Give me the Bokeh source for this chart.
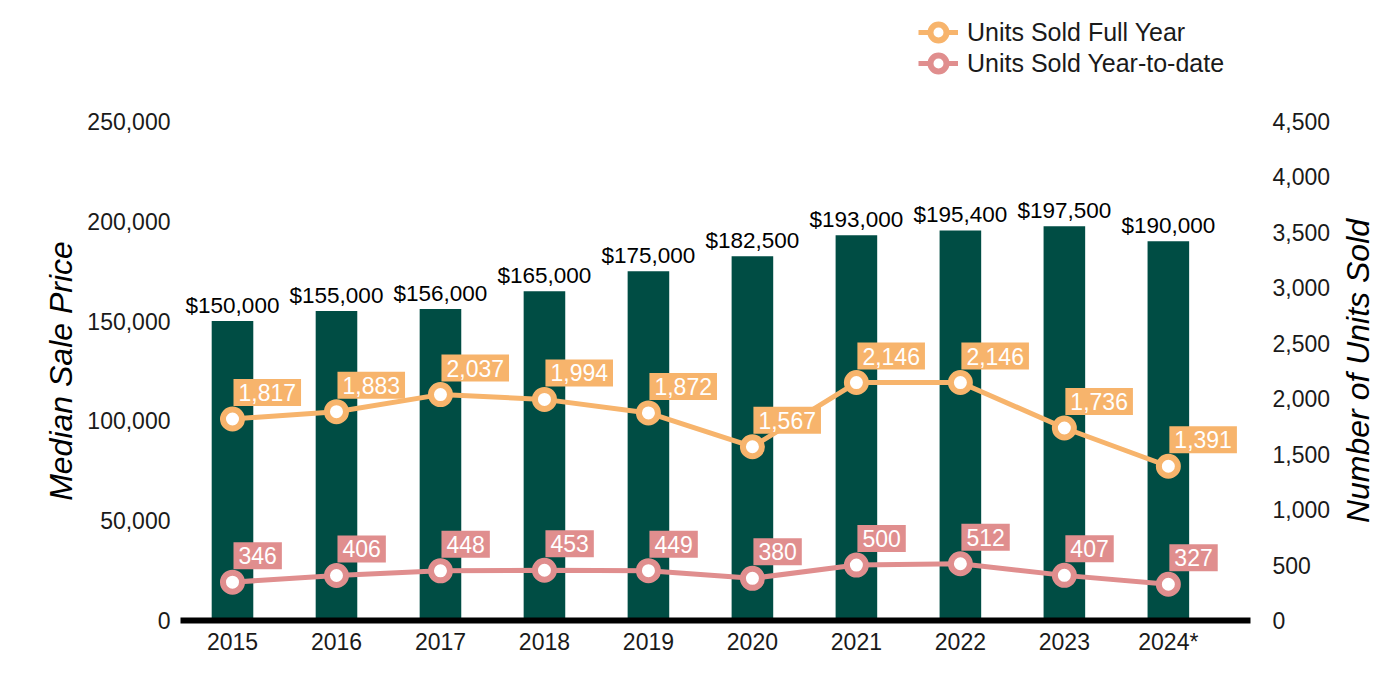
import math
from bokeh.plotting import figure
from bokeh.layouts import column, row
from bokeh.models import (Range1d, LinearAxis, FixedTicker, NumeralTickFormatter,
                          ColumnDataSource, Legend, LegendItem, Label)
from bokeh.core.properties import value
from bokeh.embed import file_html
from bokeh.resources import INLINE

# ---- data ----
years = ["2015", "2016", "2017", "2018", "2019", "2020", "2021", "2022", "2023", "2024*"]
median_price = [150000, 155000, 156000, 165000, 175000, 182500, 193000, 195400, 197500, 190000]
units_full_year = [1817, 1883, 2037, 1994, 1872, 1567, 2146, 2146, 1736, 1391]
units_ytd = [346, 406, 448, 453, 449, 380, 500, 512, 407, 327]
price_ticks = [0, 50000, 100000, 150000, 200000, 250000]
units_ticks = [0, 500, 1000, 1500, 2000, 2500, 3000, 3500, 4000, 4500]

BAR = "#004D44"
ORANGE = "#F7B46C"
PINK = "#E08E8E"
FONT = "Liberation Sans"
TXT = "#1a1a1a"

idx = list(range(len(years)))
src = ColumnDataSource(dict(
    x=idx,
    price=median_price,
    price_lbl=[f"${v:,}" for v in median_price],
    full=units_full_year,
    full_lbl=[f"{v:,}" for v in units_full_year],
    ytd=units_ytd,
    ytd_lbl=[f"{v:,}" for v in units_ytd],
))

TOP_H = 100
MAIN_W, MAIN_H = 1336, 584
SIDE_W = 42

price_range = Range1d(0, price_ticks[-1])

# ---------------- main chart ----------------
p = figure(width=MAIN_W, height=MAIN_H, output_backend="svg", toolbar_location=None,
           x_range=Range1d(-0.5, len(years) - 0.5 + 0.29),
           y_range=price_range,
           min_border_left=180, min_border_right=86,
           min_border_top=21, min_border_bottom=64)
p.extra_y_ranges = {"units": Range1d(0, units_ticks[-1])}
p.grid.visible = False
p.outline_line_color = None

p.vbar(x="x", top="price", width=0.4, source=src, fill_color=BAR, line_color=None)
p.text(x="x", y="price", text="price_lbl", source=src, text_align="center",
       text_baseline="bottom", y_offset=-3, text_font=value(FONT),
       text_font_size="22.5px", text_color="black")

l1 = p.line("x", "full", y_range_name="units", line_color=ORANGE, line_width=5, source=src)
s1 = p.scatter("x", "full", y_range_name="units", size=19, fill_color="white",
               line_color=ORANGE, line_width=6, source=src)
l2 = p.line("x", "ytd", y_range_name="units", line_color=PINK, line_width=5, source=src)
s2 = p.scatter("x", "ytd", y_range_name="units", size=19, fill_color="white",
               line_color=PINK, line_width=6, source=src)

for col, lbl, colr in (("full", "full_lbl", ORANGE), ("ytd", "ytd_lbl", PINK)):
    p.text(x="x", y=col, text=lbl, source=src, y_range_name="units",
           anchor="bottom_left", x_offset=1, y_offset=-13, padding=5,
           background_fill_color=colr, border_line_color=None,
           text_color="white", text_font=value(FONT), text_font_size="23px")

xa = p.xaxis[0]
xa.ticker = FixedTicker(ticks=idx)
xa.major_label_overrides = {i: y for i, y in zip(idx, years)}
xa.axis_line_width = 6
xa.axis_line_color = "black"
xa.major_tick_line_color = None
xa.minor_tick_line_color = None
xa.major_label_standoff = 2
xa.major_label_text_font = FONT
xa.major_label_text_font_size = "23px"
xa.major_label_text_color = TXT

ya = p.yaxis[0]
ya.ticker = FixedTicker(ticks=price_ticks)
ya.formatter = NumeralTickFormatter(format="0,0")
ya.axis_line_color = None
ya.major_tick_line_color = None
ya.minor_tick_line_color = None
ya.major_label_standoff = 4
ya.major_label_text_font = FONT
ya.major_label_text_font_size = "23px"
ya.major_label_text_color = TXT
ya.axis_label = "Median Sale Price"
ya.axis_label_text_font = FONT
ya.axis_label_text_font_size = "32px"
ya.axis_label_text_font_style = "italic"
ya.axis_label_text_color = "black"
ya.axis_label_standoff = 5

ra = LinearAxis(y_range_name="units", ticker=FixedTicker(ticks=units_ticks),
                formatter=NumeralTickFormatter(format="0,0"))
ra.axis_line_color = None
ra.major_tick_line_color = None
ra.minor_tick_line_color = None
ra.major_label_standoff = 16
ra.major_label_text_font = FONT
ra.major_label_text_font_size = "23px"
ra.major_label_text_color = TXT
p.add_layout(ra, "right")

# ---------------- right-hand axis title ----------------
side = figure(width=SIDE_W, height=MAIN_H, output_backend="svg", toolbar_location=None,
              x_range=Range1d(0, 1), y_range=price_range,
              x_axis_type=None, y_axis_type=None,
              min_border_left=0, min_border_right=0,
              min_border_top=21, min_border_bottom=64)
side.outline_line_color = None
side.grid.visible = False
side.add_layout(Label(x=0.5, y=price_ticks[-1] / 2, text="Number of Units Sold",
                      angle=math.pi / 2, text_align="center", text_baseline="middle",
                      text_font=FONT, text_font_size="32px", text_font_style="italic",
                      text_color="black"))

# ---------------- legend strip ----------------
top = figure(width=MAIN_W + SIDE_W, height=TOP_H, output_backend="svg", toolbar_location=None,
             x_range=Range1d(0, 1), y_range=Range1d(0, 1),
             x_axis_type=None, y_axis_type=None, min_border=0)
top.outline_line_color = None
top.grid.visible = False
tl1 = top.line("x", "full", line_color=ORANGE, line_width=5, source=src)
ts1 = top.scatter("x", "full", size=19, fill_color="white", line_color=ORANGE,
                  line_width=6, source=src)
tl2 = top.line("x", "ytd", line_color=PINK, line_width=5, source=src)
ts2 = top.scatter("x", "ytd", size=19, fill_color="white", line_color=PINK,
                  line_width=6, source=src)

for label, rends, loc in (("Units Sold Full Year", [tl1, ts1], (918, 47)),
                          ("Units Sold Year-to-date", [tl2, ts2], (918, 16))):
    lg = Legend(items=[LegendItem(label=label, renderers=rends)],
                location=loc, padding=0, margin=0, spacing=0,
                glyph_height=42, glyph_width=40, label_height=31, label_standoff=9,
                label_text_font=FONT, label_text_font_size="25px", label_text_color=TXT,
                background_fill_alpha=0, border_line_color=None)
    top.add_layout(lg)

layout = column(top, row(p, side))
open("out.html", "w").write(file_html(layout, INLINE))
